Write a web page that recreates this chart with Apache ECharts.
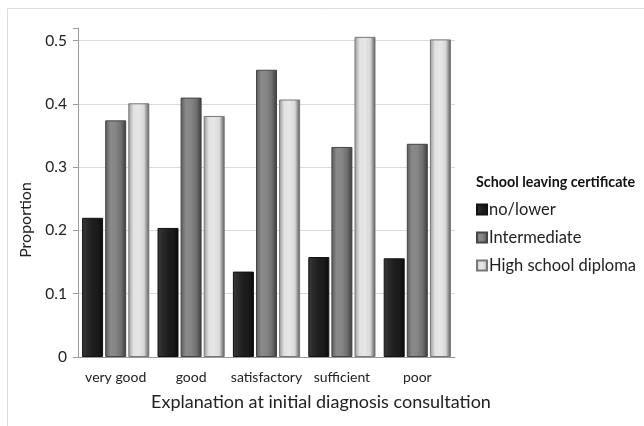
<!DOCTYPE html>
<html><head><meta charset="utf-8">
<script src="https://cdn.jsdelivr.net/npm/echarts@6/dist/echarts.min.js"></script>
<style>html,body{margin:0;padding:0;background:#fff}#c{width:644px;height:426px}</style>
</head><body><div id="c"></div>
<script>
const categories = ['very good', 'good', 'satisfactory', 'sufficient', 'poor'];
const seriesNames = ['no/lower', 'Intermediate', 'High school diploma'];
const noLower = [0.220, 0.204, 0.135, 0.158, 0.156];
const intermediate = [0.374, 0.410, 0.454, 0.332, 0.337];
const highSchool = [0.401, 0.381, 0.407, 0.506, 0.502];
const yTicks = [0, 0.1, 0.2, 0.3, 0.4, 0.5];

const FONT = 'Lato';
function grad(stops) {
  return new echarts.graphic.LinearGradient(0, 0, 1, 0, stops.map((c, i) => ({offset: i / (stops.length - 1), color: c})));
}
const styles = [
  {color: grad(['#3a3a3a', '#2a2a2a', '#1e1e1e', '#1a1a1a', '#0a0a0a']), borderColor: '#111'},
  {color: grad(['#5a5a5a', '#8a8a8a', '#858585', '#707070', '#3a3a3a']), borderColor: '#444'},
  {color: grad(['#9a9a9a', '#e2e2e2', '#e6e6e6', '#d8d8d8', '#555555']), borderColor: '#777'}
];
const data = [noLower, intermediate, highSchool];

const chart = echarts.init(document.getElementById('c'));
chart.setOption({
  animation: false,
  textStyle: {fontFamily: FONT},
  grid: {left: 78, right: 189, top: 28, bottom: 69},
  graphic: [
    {type: 'rect', shape: {x: 7.5, y: 8.5, width: 700, height: 430}, style: {fill: 'none', stroke: '#dcdcdc', lineWidth: 1}, silent: true},
    {type: 'text', left: 476, top: 175, style: {text: 'School leaving certificate', fontFamily: FONT, fontWeight: 'bold', fontSize: 14.3, fill: '#111'}},
    {type: 'text', x: 321, y: 402, style: {text: 'Explanation at initial diagnosis consultation', fontFamily: FONT, fontSize: 18, fill: '#222', align: 'center', verticalAlign: 'middle'}},
    {type: 'text', x: 26, y: 220, rotation: Math.PI / 2, style: {text: 'Proportion', fontFamily: FONT, fontSize: 16, fill: '#222', align: 'center', verticalAlign: 'middle'}}
  ],
  legend: {
    orient: 'vertical', left: 471, top: 196, itemWidth: 10, itemHeight: 10, itemGap: 11,
    icon: 'rect',
    textStyle: {fontFamily: FONT, fontSize: 16.5, color: '#222', padding: [0, 0, 0, -3]},
    data: seriesNames
  },
  xAxis: {
    type: 'category', data: categories,
    axisLine: {lineStyle: {color: '#9a9a9a'}}, axisTick: {show: false},
    axisLabel: {fontFamily: FONT, fontSize: 14, color: '#222', margin: 13, interval: 0}
  },
  yAxis: {
    type: 'value', min: 0, max: 0.52, interval: 0.1,
    axisLine: {show: true, lineStyle: {color: '#9a9a9a'}},
    axisTick: {show: true, length: 5, lineStyle: {color: '#9a9a9a'}},
    axisLabel: {fontFamily: FONT, fontSize: 15.5, color: '#222', margin: 11,
      formatter: v => { const t = yTicks.find(x => Math.abs(x - v) < 1e-9); return t === undefined ? '' : String(t); }},
    splitLine: {show: true, showMaxLine: false, lineStyle: {color: '#dadada'}}
  },
  series: seriesNames.map((n, i) => ({
    name: n, type: 'bar', data: data[i], barWidth: 21, barGap: '10%',
    itemStyle: {color: styles[i].color, borderColor: styles[i].borderColor, borderWidth: 1}
  }))
});
</script></body></html>
